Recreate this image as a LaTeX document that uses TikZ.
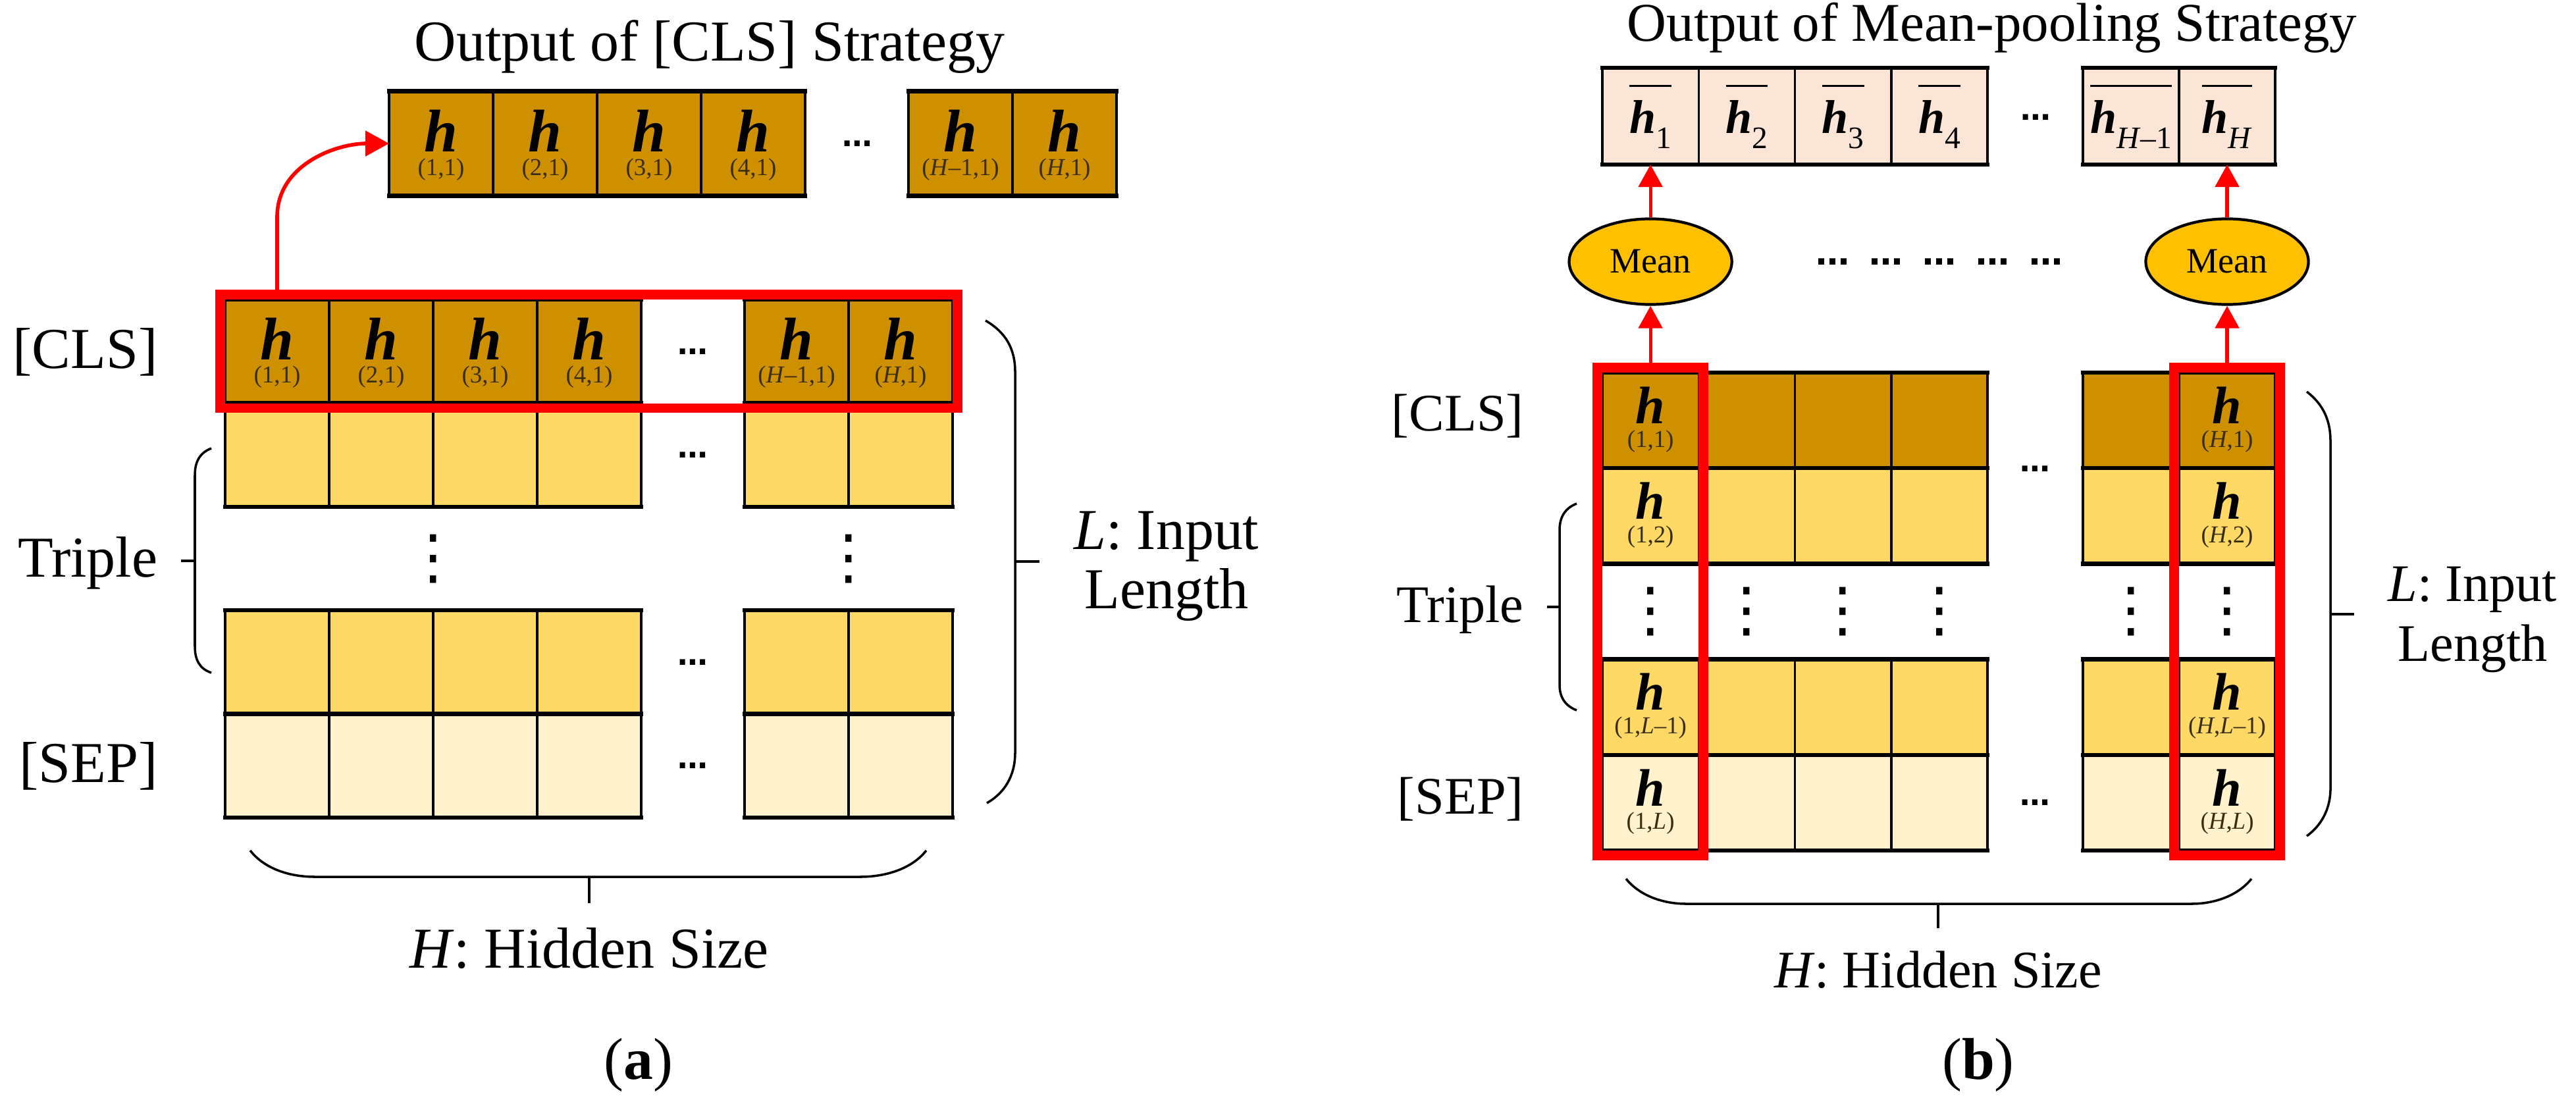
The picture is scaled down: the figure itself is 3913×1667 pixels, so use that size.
\documentclass[tikz,border=0pt]{standalone}
\usepackage{fontspec}
\usepackage{amsmath}
\setmainfont{Liberation Serif}
\newfontfamily\dotfont{DejaVu Sans}
\usetikzlibrary{arrows.meta,fit,shapes.geometric}
\definecolor{clsc}{HTML}{CF9000}
\definecolor{midc}{HTML}{FFD966}
\definecolor{lowc}{HTML}{FFF2CC}
\definecolor{outc}{HTML}{FBE5D6}
\definecolor{meanc}{HTML}{FFC000}
\definecolor{subc}{HTML}{3A2E10}
\definecolor{redc}{HTML}{FF0000}
\newcommand{\hfA}{\fontsize{26pt}{26pt}\selectfont\bfseries\itshape}
\newcommand{\hfB}{\fontsize{22.8pt}{22.8pt}\selectfont\bfseries\itshape}
\newcommand{\sfnt}{\fontsize{10.5pt}{10.5pt}\selectfont\mdseries\upshape\color{subc}}
% h stacked over its index: index baseline lies 10pt below the h baseline
\newcommand{\hcA}[1]{\vbox{\baselineskip=10pt\lineskiplimit=-100pt\lineskip=0pt
  \hbox to 0pt{\hss{\hfA h}\hss}\hbox to 0pt{\hss{\sfnt #1}\hss}}}
\newcommand{\hcB}[1]{\vbox{\baselineskip=10.2pt\lineskiplimit=-100pt\lineskip=0pt
  \hbox to 0pt{\hss{\hfB h}\hss}\hbox to 0pt{\hss{\sfnt #1}\hss}}}
\newcommand{\hcM}[1]{$\overline{\rule{0pt}{17.5pt}\mbox{\fontsize{20.5pt}{20.5pt}\selectfont\bfseries\itshape h\raisebox{-0.23cm}{\fontsize{13.5pt}{13.5pt}\selectfont\mdseries\upshape #1}}}$}
\newcommand{\hdt}{{\dotfont\bfseries\fontsize{13pt}{13pt}\selectfont …}}
\newcommand{\hdtL}{{\dotfont\bfseries\fontsize{14.5pt}{14.5pt}\selectfont …}}
\newcommand{\vdt}{{\dotfont\fontsize{26pt}{26pt}\selectfont ⋮}}
\begin{document}
\begin{tikzpicture}[x=0.01cm, y=-0.01cm,
 cellA/.style={rectangle, draw=black, line width=1pt, inner sep=0pt, outer sep=0pt, minimum width=1.58cm, minimum height=1.575cm, text height=0.96cm, text depth=0cm},
 cellB/.style={rectangle, draw=black, line width=1pt, inner sep=0pt, outer sep=0pt, minimum width=1.4625cm, minimum height=1.452cm, text height=0.81cm, text depth=0cm},
 outA/.style={cellA, fill=clsc, minimum height=1.59cm},
 outB/.style={rectangle, draw=black, line width=1pt, inner sep=0pt, outer sep=0pt, minimum width=1.4625cm, fill=outc, minimum height=1.47cm, text height=0.51cm, text depth=0cm, font=\fontsize{20.5pt}{20.5pt}\selectfont},
 rowline/.style={line width=1.8pt, black, line cap=rect},
 redbox/.style={draw=redc, line width=0.145cm, inner sep=0.0725cm, rectangle},
 redarrowA/.style={draw=redc, line width=1.6pt, -{Triangle[length=0.36cm,width=0.38cm]}},
 redarrowB/.style={draw=redc, line width=1.5pt, -{Triangle[length=0.34cm,width=0.36cm]}},
 meannode/.style={ellipse, draw=black, line width=1.2pt, fill=meanc, minimum width=2.47cm, minimum height=1.3cm, inner sep=0pt, font=\fontsize{15.4pt}{15.4pt}\selectfont},
 bracepath/.style={draw=black, line width=1pt},
 labA/.style={font=\fontsize{25pt}{25.6pt}\selectfont, inner sep=0pt},
 labB/.style={font=\fontsize{22.8pt}{25.9pt}\selectfont, inner sep=0pt},
 capstyle/.style={font=\fontsize{25.5pt}{26pt}\selectfont, inner sep=0pt},
 dotnode/.style={inner sep=0pt}]
\useasboundingbox (0,0) rectangle (3913,1667);

% ================= panel (a) =================
\node[labA, anchor=base] (titA) at (1078,93) {Output of [CLS] Strategy};

\node[outA] (oA1) at (670,218) {\hcA{(1,1)}};
\node[outA] (oA2) at (828,218) {\hcA{(2,1)}};
\node[outA] (oA3) at (986,218) {\hcA{(3,1)}};
\node[outA] (oA4) at (1144,218) {\hcA{(4,1)}};
\node[outA] (oA5) at (1459,218) {\hcA{(\textit{H}–1,1)}};
\node[outA] (oA6) at (1617,218) {\hcA{(\textit{H},1)}};
\node[dotnode] (oAd) at (1302,218) {\hdt};
\draw[rowline] (oA1.north west) -- (oA4.north east) (oA1.south west) -- (oA4.south east)
  (oA5.north west) -- (oA6.north east) (oA5.south west) -- (oA6.south east);

\node[cellA, fill=clsc] (a11) at (421,533.75) {\hcA{(1,1)}};
\node[cellA, fill=clsc] (a12) at (579,533.75) {\hcA{(2,1)}};
\node[cellA, fill=clsc] (a13) at (737,533.75) {\hcA{(3,1)}};
\node[cellA, fill=clsc] (a14) at (895,533.75) {\hcA{(4,1)}};
\node[cellA, fill=clsc] (a15) at (1210,533.75) {\hcA{(\textit{H}–1,1)}};
\node[cellA, fill=clsc] (a16) at (1368,533.75) {\hcA{(\textit{H},1)}};
\foreach \r/\y/\f in {2/691.25/midc, 3/1005.75/midc, 4/1163.25/lowc} {
  \foreach \c/\x in {1/421,2/579,3/737,4/895,5/1210,6/1368} {
    \node[cellA, fill=\f] (a\r\c) at (\x,\y) {};
  }
}
\foreach \r in {1,2,3,4} {
  \draw[rowline] (a\r1.north west) -- (a\r4.north east) (a\r1.south west) -- (a\r4.south east)
    (a\r5.north west) -- (a\r6.north east) (a\r5.south west) -- (a\r6.south east);
}
\foreach \y/\n in {533.75/1, 691.25/2, 1005.75/3, 1163.25/4} {
  \node[dotnode] (aGap\n) at (1052.5,\y) {\hdt};
}
\node[dotnode] (aV1) at (658,849) {\vdt};
\node[dotnode] (aV2) at (1289,849) {\vdt};

\node[redbox, fit=(a11)(a16)] (selA) {};
\draw[redarrowA] (selA.north -| a11.center) -- ++(0,-111) to[out=90,in=180] (oA1.west);

\node[labA, anchor=base east] (clsA) at (240,559) {[CLS]};
\node[labA, anchor=base east] (triA) at (240,876) {Triple};
\node[labA, anchor=base east] (sepA) at (240,1188) {[SEP]};

\draw[bracepath] (321,681) .. controls (303,688) and (296,702) .. (296,722) -- (296,982)
  .. controls (296,1002) and (303,1016) .. (321,1022);
\draw[bracepath] (296,852) -- (275,852);

\draw[bracepath] (1497,487) .. controls (1528,505) and (1542,530) .. (1542,565) -- (1542,1143)
  .. controls (1542,1180) and (1525,1205) .. (1499,1220);
\draw[bracepath] (1542,853) -- (1579,853);
\node[labA, align=center] (lenA) at (1772,860) {\textit{L}: Input\\Length};

\draw[bracepath] (380,1292) .. controls (402,1320) and (440,1332) .. (478,1332) -- (1307,1332)
  .. controls (1345,1332) and (1385,1320) .. (1407,1292);
\draw[bracepath] (895,1332) -- (895,1372);
\node[labA, anchor=base] (hidA) at (895,1470) {\textit{H}: Hidden Size};
\node[capstyle, anchor=base] (capA) at (970,1639) {(\textbf{a})};

% ================= panel (b) =================
\node[font=\fontsize{23.6pt}{24pt}\selectfont, inner sep=0pt, anchor=base] (titB) at (3026,63) {Output of Mean-pooling Strategy};

\node[outB] (oB1) at (2507.1,176.5) {\hcM{1}};
\node[outB] (oB2) at (2653.4,176.5) {\hcM{2}};
\node[outB] (oB3) at (2799.6,176.5) {\hcM{3}};
\node[outB] (oB4) at (2945.9,176.5) {\hcM{4}};
\node[outB] (oB5) at (3237,176.5) {\hcM{\textit{H}–1}};
\node[outB] (oB6) at (3383,176.5) {\hcM{\textit{H}}};
\node[dotnode] (oBd) at (3092,178) {\hdt};
\draw[rowline] (oB1.north west) -- (oB4.north east) (oB1.south west) -- (oB4.south east)
  (oB5.north west) -- (oB6.north east) (oB5.south west) -- (oB6.south east);

\node[meannode] (mean1) at (2507.1,397.5) {Mean};
\node[meannode] (mean2) at (3383,397.5) {Mean};
\node[dotnode] (meanDots) at (2946,397.5) {\hdtL\hspace{8.5pt}\hdtL\hspace{8.5pt}\hdtL\hspace{8.5pt}\hdtL\hspace{8.5pt}\hdtL};

\foreach \r/\y/\f in {1/638.6/clsc, 2/783.8/midc, 3/1074.2/midc, 4/1219.4/lowc} {
  \foreach \c/\x in {2/2653.4,3/2799.6,4/2945.9,5/3237} {
    \node[cellB, fill=\f] (b\r\c) at (\x,\y) {};
  }
}
\node[cellB, fill=clsc] (b11) at (2507.1,638.6) {\hcB{(1,1)}};
\node[cellB, fill=midc] (b21) at (2507.1,783.8) {\hcB{(1,2)}};
\node[cellB, fill=midc] (b31) at (2507.1,1074.2) {\hcB{(1,\textit{L}–1)}};
\node[cellB, fill=lowc] (b41) at (2507.1,1219.4) {\hcB{(1,\textit{L})}};
\node[cellB, fill=clsc] (b16) at (3383,638.6) {\hcB{(\textit{H},1)}};
\node[cellB, fill=midc] (b26) at (3383,783.8) {\hcB{(\textit{H},2)}};
\node[cellB, fill=midc] (b36) at (3383,1074.2) {\hcB{(\textit{H},\textit{L}–1)}};
\node[cellB, fill=lowc] (b46) at (3383,1219.4) {\hcB{(\textit{H},\textit{L})}};
\foreach \r in {1,2,3,4} {
  \draw[rowline] (b\r1.north west) -- (b\r4.north east) (b\r1.south west) -- (b\r4.south east)
    (b\r5.north west) -- (b\r6.north east) (b\r5.south west) -- (b\r6.south east);
}
\node[dotnode] (bGap1) at (3091.5,712) {\hdt};
\node[dotnode] (bGap2) at (3091.5,1219.4) {\hdt};
\foreach \x/\n in {2507.1/1, 2653.4/2, 2799.6/3, 2945.9/4, 3237/5, 3383/6} {
  \node[dotnode] (bV\n) at (\x,929) {\vdt};
}

\node[redbox, fit=(b11)(b41)] (selB1) {};
\node[redbox, fit=(b16)(b46)] (selB2) {};
\draw[redarrowB] (selB1.north) -- (mean1.south);
\draw[redarrowB] (mean1.north) -- (oB1.south);
\draw[redarrowB] (selB2.north) -- (mean2.south);
\draw[redarrowB] (mean2.north) -- (oB6.south);

\node[labB, anchor=base east] (clsB) at (2315,654) {[CLS]};
\node[labB, anchor=base east] (triB) at (2315,945) {Triple};
\node[labB, anchor=base east] (sepB) at (2315,1236) {[SEP]};

\draw[bracepath] (2395,765) .. controls (2377,772) and (2369,786) .. (2369,805) -- (2369,1040)
  .. controls (2369,1059) and (2377,1072) .. (2395,1079);
\draw[bracepath] (2369,922) -- (2350,922);

\draw[bracepath] (3504,595) .. controls (3530,615) and (3540,640) .. (3540,670) -- (3540,1198)
  .. controls (3540,1230) and (3525,1255) .. (3504,1270);
\draw[bracepath] (3540,933) -- (3576,933);
\node[labB, align=center] (lenB) at (3756,941.5) {\textit{L}: Input\\Length};

\draw[bracepath] (2470,1335) .. controls (2490,1360) and (2525,1373) .. (2561,1373) -- (3329,1373)
  .. controls (3365,1373) and (3400,1360) .. (3420,1335);
\draw[bracepath] (2944,1373) -- (2944,1410);
\node[labB, anchor=base] (hidB) at (2944,1500) {\textit{H}: Hidden Size};
\node[capstyle, anchor=base] (capB) at (3005,1639) {(\textbf{b})};
\end{tikzpicture}
\end{document}
